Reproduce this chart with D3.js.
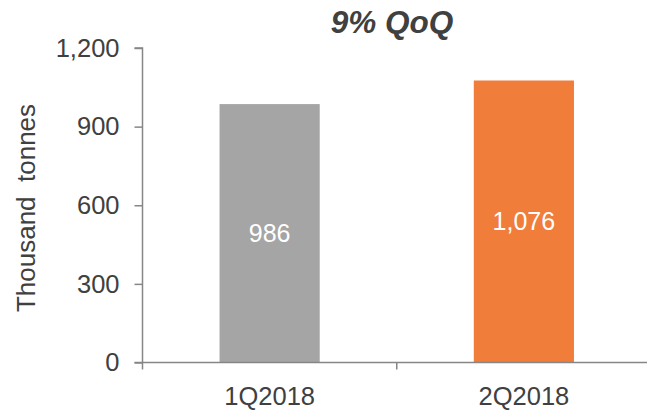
<!DOCTYPE html>
<html>
<head>
<meta charset="utf-8">
<script src="https://cdn.jsdelivr.net/npm/d3@7/dist/d3.min.js"></script>
<style>
  html, body { margin: 0; padding: 0; background: #fff; }
  svg { display: block; font-family: "Liberation Sans", Arial, sans-serif; }
</style>
</head>
<body>
<svg id="chart" width="647" height="411"></svg>
<script>
// Quarterly volumes, thousand tonnes
const quarters = ["1Q2018", "2Q2018"];
const volumes = [986, 1076];
const barColors = ["#A5A5A5", "#F07D3A"];
const yTicks = [0, 300, 600, 900, 1200];
const titleText = "9% QoQ";
const yAxisTitle = "Thousand  tonnes";

const svg = d3.select("#chart");
const textColor = "#404040";
const axisColor = "#868686";

const plot = { left: 142.5, right: 651, top: 48, bottom: 362.5 };

const x = d3.scaleBand()
  .domain(quarters)
  .range([plot.left, plot.right])
  .paddingInner(0.606)
  .paddingOuter(0.303);

const y = d3.scaleLinear()
  .domain([0, 1200])
  .range([plot.bottom, plot.top]);

// Bars
svg.append("g").selectAll("rect")
  .data(quarters)
  .join("rect")
  .attr("x", (d) => x(d))
  .attr("width", x.bandwidth())
  .attr("y", (d, i) => y(volumes[i]))
  .attr("height", (d, i) => y(0) - y(volumes[i]))
  .attr("fill", (d, i) => barColors[i]);

// Value labels inside the bars
svg.append("g").selectAll("text")
  .data(quarters)
  .join("text")
  .attr("x", (d) => x(d) + x.bandwidth() / 2)
  .attr("y", (d, i) => (y(volumes[i]) + y(0)) / 2)
  .attr("dy", "0.36em")
  .attr("text-anchor", "middle")
  .attr("fill", "#fff")
  .attr("font-size", 25)
  .text((d, i) => d3.format(",")(volumes[i]));

// Y axis
const yAxis = svg.append("g")
  .attr("transform", `translate(${plot.left},0)`)
  .call(d3.axisLeft(y).tickValues(yTicks).tickFormat(d3.format(",")).tickSize(8).tickPadding(15));
yAxis.select(".domain").attr("stroke", axisColor).attr("stroke-width", 1.5)
  .attr("d", `M-8,${plot.top}H0V${plot.bottom}`);
yAxis.selectAll(".tick line").attr("stroke", axisColor).attr("stroke-width", 1.5);
yAxis.selectAll(".tick text").attr("fill", textColor).attr("font-size", 25.5)
  .attr("font-family", "Liberation Sans, Arial, sans-serif");

// X axis baseline with boundary ticks between categories
const step = x.step();
const bounds = quarters.map((d) => x(d) - step * x.paddingInner() / 2).concat([plot.right]);
const xg = svg.append("g");
xg.append("line")
  .attr("x1", plot.left - 8).attr("x2", 647)
  .attr("y1", y(0)).attr("y2", y(0))
  .attr("stroke", axisColor).attr("stroke-width", 1.5);
xg.selectAll("line.bound")
  .data(bounds)
  .join("line")
  .attr("class", "bound")
  .attr("x1", (d) => d).attr("x2", (d) => d)
  .attr("y1", y(0)).attr("y2", y(0) + 7)
  .attr("stroke", axisColor).attr("stroke-width", 1.5);
xg.selectAll("text")
  .data(quarters)
  .join("text")
  .attr("x", (d) => x(d) + x.bandwidth() / 2)
  .attr("y", 405)
  .attr("text-anchor", "middle")
  .attr("fill", textColor)
  .attr("font-size", 25.5)
  .text((d) => d);

// Y axis title
svg.append("text")
  .attr("transform", "translate(35,208) rotate(-90)")
  .attr("text-anchor", "middle")
  .attr("fill", textColor)
  .attr("font-size", 26)
  .style("white-space", "pre")
  .text(yAxisTitle);

// Chart title
svg.append("text")
  .attr("x", 392)
  .attr("y", 33)
  .attr("text-anchor", "middle")
  .attr("fill", textColor)
  .attr("font-size", 31.5)
  .attr("font-weight", "bold")
  .attr("font-style", "italic")
  .text(titleText);
</script>
</body>
</html>
